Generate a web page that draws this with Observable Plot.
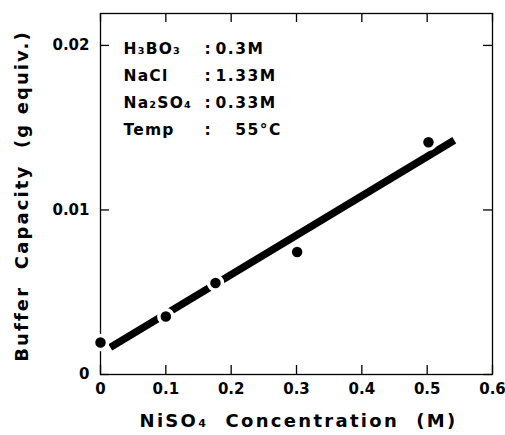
<!DOCTYPE html>
<html>
<head>
<meta charset="utf-8">
<script src="https://cdn.jsdelivr.net/npm/d3@7"></script>
<script src="https://cdn.jsdelivr.net/npm/@observablehq/plot@0.6"></script>
<style>
  html, body { margin: 0; padding: 0; background: #fff; }
  svg { font-family: "DejaVu Sans", sans-serif; font-weight: bold; }
  .note-names text { letter-spacing: 1.2px; }
  .note-values text { letter-spacing: 1.5px; }
  .x-label text { letter-spacing: 2.3px; }
  .y-label text { letter-spacing: 2.1px; }
</style>
</head>
<body>
<div id="chart"></div>
<script>
// Data
const concentration = [0, 0.1, 0.176, 0.301, 0.502];          // NiSO4 (M)
const capacity      = [0.00194, 0.00353, 0.00556, 0.00744, 0.01412]; // g equiv.
const fitX = [0.015, 0.5415];
const fitY = [0.00165, 0.01424];
const xTicks = [0, 0.1, 0.2, 0.3, 0.4, 0.5, 0.6];
const xTickLabels = ["0", "0.1", "0.2", "0.3", "0.4", "0.5", "0.6"];
const yTicks = [0, 0.01, 0.02];
const yTickLabels = ["0", "0.01", "0.02"];
const noteNames  = ["H₃BO₃", "NaCl", "Na₂SO₄", "Temp"];
const noteValues = ["0.3M", "1.33M", "0.33M", "\u2007\u200855°C"];
const xLabel = "NiSO₄  Concentration  (M)";
const yLabel = "Buffer  Capacity  (g equiv.)";

const points = concentration.map((c, i) => ({x: c, y: capacity[i]}));
const fit = fitX.map((x, i) => ({x, y: fitY[i]}));

const H = 435, MT = 13, MB = 61;
const innerH = H - MT - MB;
const W = 505, ML = 100, MR = 13;
const innerW = W - ML - MR;
const tickLen = 9;
const noteFont = 15.5, noteLH = 1.75, noteDy = 21;

const chart = Plot.plot({
  width: W,
  height: H,
  marginLeft: ML,
  marginRight: MR,
  marginTop: MT,
  marginBottom: MB,
  style: {fontFamily: "DejaVu Sans, sans-serif", fontWeight: "bold", fontSize: "15px", color: "#000", background: "#fff"},
  x: {domain: [0, 0.6]},
  y: {domain: [0, 0.02194]},
  marks: [
    Plot.frame({stroke: "#000", strokeWidth: 1.3}),
    // inward ticks: bottom, top
    Plot.ruleX(xTicks, {x: d => d, insetTop: innerH - tickLen, stroke: "#000", strokeWidth: 1.3}),
    Plot.ruleX(xTicks, {x: d => d, insetBottom: innerH - tickLen, stroke: "#000", strokeWidth: 1.3}),
    // inward ticks: left, right
    Plot.ruleY(yTicks, {y: d => d, insetRight: innerW - tickLen, stroke: "#000", strokeWidth: 1.3}),
    Plot.ruleY(yTicks, {y: d => d, insetLeft: innerW - tickLen, stroke: "#000", strokeWidth: 1.3}),
    Plot.axisX(xTicks, {tickSize: 0, tickPadding: 9, tickFormat: (d, i) => xTickLabels[i], fontSize: 15, fontWeight: "bold", label: null}),
    Plot.axisY(yTicks, {tickSize: 0, tickPadding: 11, tickFormat: (d, i) => yTickLabels[i], fontSize: 15, fontWeight: "bold", label: null}),
    // fit line
    Plot.line(fit, {x: "x", y: "y", stroke: "#000", strokeWidth: 7.5, strokeLinecap: "butt"}),
    // data points with white halo
    Plot.dot(points, {x: "x", y: "y", r: 7, fill: "#000", stroke: "#fff", strokeWidth: 3.5, clip: false}),
    // annotation block
    Plot.text([noteNames.join("\n")], {text: d => d, className: "note-names", frameAnchor: "top-left", lineAnchor: "top", dx: 23, dy: noteDy, textAnchor: "start", fontSize: noteFont, fontWeight: "bold", lineHeight: noteLH}),
    Plot.text([noteNames.map(() => ":").join("\n")], {text: d => d, frameAnchor: "top-left", lineAnchor: "top", dx: 104, dy: noteDy, textAnchor: "start", fontSize: noteFont, fontWeight: "bold", lineHeight: noteLH}),
    Plot.text([noteValues.join("\n")], {text: d => d, className: "note-values", frameAnchor: "top-left", lineAnchor: "top", dx: 115, dy: noteDy, textAnchor: "start", fontSize: noteFont, fontWeight: "bold", lineHeight: noteLH}),
    // x label
    Plot.text([xLabel], {text: d => d, className: "x-label", frameAnchor: "bottom", dy: 52, dx: 2, fontSize: 18, fontWeight: "bold"}),
    // y label
    Plot.text([yLabel], {text: d => d, className: "y-label", frameAnchor: "left", textAnchor: "middle", dx: -78, dy: 2, rotate: -90, fontSize: 18, fontWeight: "bold"})
  ]
});
document.getElementById("chart").appendChild(chart);
</script>
</body>
</html>
